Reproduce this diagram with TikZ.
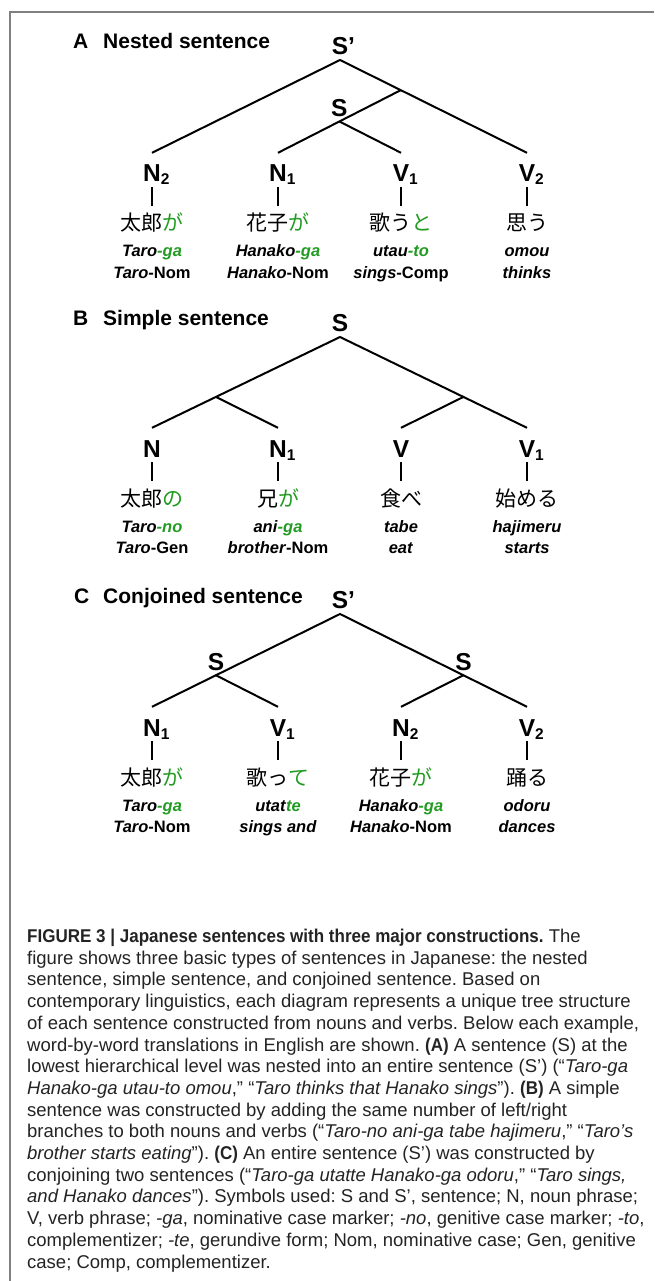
\documentclass[tikz,border=0pt]{standalone}
\usepackage{fontspec}
\setmainfont{Liberation Sans}
\newfontfamily\jpfont{Noto Sans CJK JP}
\newfontfamily\capcond[FakeStretch=0.92]{Liberation Sans}
\usepackage{xcolor}
\usetikzlibrary{calc}
\definecolor{FigGreen}{RGB}{34, 155, 34}
\definecolor{FigFrame}{RGB}{128, 128, 128}
\definecolor{FigText}{RGB}{35, 35, 35}
\newcommand{\grn}[1]{{\color{FigGreen}#1}}
\newcommand{\lsub}[1]{\rlap{\raisebox{-3pt}{\fontsize{15.5}{15.5}\selectfont #1}}}
\newcommand{\capb}[1]{{\capcond\bfseries #1}}
\frenchspacing

\tikzset{
  cat/.style={font=\bfseries\fontsize{24.5}{24.5}\selectfont, inner sep=0pt, anchor=base, text height=29pt, text depth=5pt},
  top/.style={font=\bfseries\fontsize{24.5}{24.5}\selectfont, inner sep=0pt, text depth=5pt},
  jp/.style={font=\jpfont\fontsize{21}{21}\selectfont, inner sep=0pt, anchor=base, text height=25pt},
  gloss/.style={font=\bfseries\fontsize{16.5}{16.5}\selectfont, inner sep=0pt, anchor=base},
  title/.style={font=\bfseries\fontsize{21}{21}\selectfont, inner sep=0pt, anchor=base west},
  branch/.style={line width=2pt}
}

\begin{document}
\begin{tikzpicture}[x=1pt,y=-1pt]
  \useasboundingbox (0,0) rectangle (654,1281);

  % Frame
  \draw[FigFrame, line width=1.5pt] (654,12) -- (10,12) -- (10,1281);

  % Panel titles
  \node[title] (a-lab) at (73,49) {A};
  \node[title] (a-title) at (103,49) {Nested sentence};
  \node[title] (b-lab) at (73,325) {B};
  \node[title] (b-title) at (103,325) {Simple sentence};
  \node[title] (c-lab) at (74,603) {C};
  \node[title] (c-title) at (103,603) {Conjoined sentence};

  % Leaves: category, Japanese word, two gloss lines
  \foreach \x/\ly/\nm/\vlab/\vjp/\vga/\vgb in {
    152/153/a-n2/N\lsub{2}/{太郎\grn{が}}/{\textit{Taro}\grn{\textit{-ga}}}/{\textit{Taro}-Nom},
    278/153/a-n1/N\lsub{1}/{花子\grn{が}}/{\textit{Hanako}\grn{\textit{-ga}}}/{\textit{Hanako}-Nom},
    401/153/a-v1/V\lsub{1}/{歌う\grn{と}}/{\textit{utau}\grn{\textit{-to}}}/{\textit{sings}-Comp},
    527/153/a-v2/V\lsub{2}/{思う}/{\textit{omou}}/{\textit{thinks}},
    152/428/b-n/N/{太郎\grn{の}}/{\textit{Taro}\grn{\textit{-no}}}/{\textit{Taro}-Gen},
    278/428/b-n1/N\lsub{1}/{兄\grn{が}}/{\textit{ani}\grn{\textit{-ga}}}/{\textit{brother}-Nom},
    401/428/b-v/V/{食べ}/{\textit{tabe}}/{\textit{eat}},
    527/428/b-v1/V\lsub{1}/{始める}/{\textit{hajimeru}}/{\textit{starts}},
    152/707/c-n1/N\lsub{1}/{太郎\grn{が}}/{\textit{Taro}\grn{\textit{-ga}}}/{\textit{Taro}-Nom},
    278/707/c-v1/V\lsub{1}/{歌っ\grn{て}}/{\textit{utat}\grn{\textit{te}}}/{\textit{sings and}},
    401/707/c-n2/N\lsub{2}/{花子\grn{が}}/{\textit{Hanako}\grn{\textit{-ga}}}/{\textit{Hanako}-Nom},
    527/707/c-v2/V\lsub{2}/{踊る}/{\textit{odoru}}/{\textit{dances}}}{
    \node[cat] (\nm) at (\x,{\ly+29}) {\vlab};
    \node[jp] (\nm-jp) at (\x,{\ly+78}) {\vjp};
    \node[gloss] (\nm-g1) at (\x,{\ly+104}) {\vga};
    \node[gloss] (\nm-g2) at (\x,{\ly+125}) {\vgb};
    \draw[branch] (\nm.south) -- (\nm-jp.north);
  }

  % A: nested sentence
  \node[top, anchor=south] (a-sp) at (340,60) {S\rlap{’}};
  \coordinate (a-j) at ($(a-sp.south)!0.325!(a-v2.north)$);
  \node[top, anchor=south] (a-s) at ($(a-j)!0.5!(a-n1.north)$) {S};
  \draw[branch] (a-n2.north) -- (a-sp.south) -- (a-v2.north);
  \draw[branch] (a-j) -- (a-n1.north);
  \draw[branch] (a-s.south) -- (a-v1.north);

  % B: simple sentence
  \node[top, anchor=south] (b-s) at (340,337) {S};
  \coordinate (b-l) at ($(b-s.south)!0.66!(b-n.north)$);
  \coordinate (b-r) at ($(b-s.south)!0.66!(b-v1.north)$);
  \draw[branch] (b-n.north) -- (b-s.south) -- (b-v1.north);
  \draw[branch] (b-l) -- (b-n1.north);
  \draw[branch] (b-r) -- (b-v.north);

  % C: conjoined sentence
  \node[top, anchor=south] (c-sp) at (340,614) {S\rlap{’}};
  \coordinate (c-jl) at ($(c-sp.south)!0.66!(c-n1.north)$);
  \coordinate (c-jr) at ($(c-sp.south)!0.66!(c-v2.north)$);
  \node[top, anchor=south] (c-sl) at (c-jl) {S};
  \node[top, anchor=south] (c-sr) at (c-jr) {S};
  \draw[branch] (c-n1.north) -- (c-sp.south) -- (c-v2.north);
  \draw[branch] (c-sl.south) -- (c-v1.north);
  \draw[branch] (c-sr.south) -- (c-n2.north);

  % Caption (base = last line)
  \node[anchor=base west, align=left, inner sep=0pt, text=FigText,
        font=\fontsize{18.5}{21.7}\selectfont] (caption) at (27,1268) {%
    \capb{FIGURE 3 | Japanese sentences with three major constructions.} The\\
    figure shows three basic types of sentences in Japanese: the nested\\
    sentence, simple sentence, and conjoined sentence. Based on\\
    contemporary linguistics, each diagram represents a unique tree structure\\
    of each sentence constructed from nouns and verbs. Below each example,\\
    word-by-word translations in English are shown. \capb{(A)} A sentence (S) at the\\
    lowest hierarchical level was nested into an entire sentence (S’) (“\textit{Taro-ga}\\
    \textit{Hanako-ga utau-to omou},” “\textit{Taro thinks that Hanako sings}”). \capb{(B)} A simple\\
    sentence was constructed by adding the same number of left/right\\
    branches to both nouns and verbs (“\textit{Taro-no ani-ga tabe hajimeru},” “\textit{Taro’s}\\
    \textit{brother starts eating}”). \capb{(C)} An entire sentence (S’) was constructed by\\
    conjoining two sentences (“\textit{Taro-ga utatte Hanako-ga odoru},” “\textit{Taro sings,}\\
    \textit{and Hanako dances}”). Symbols used: S and S’, sentence; N, noun phrase;\\
    V, verb phrase; \textit{-ga}, nominative case marker; \textit{-no}, genitive case marker; \textit{-to},\\
    complementizer; \textit{-te}, gerundive form; Nom, nominative case; Gen, genitive\\
    case; Comp, complementizer.};
\end{tikzpicture}
\end{document}
